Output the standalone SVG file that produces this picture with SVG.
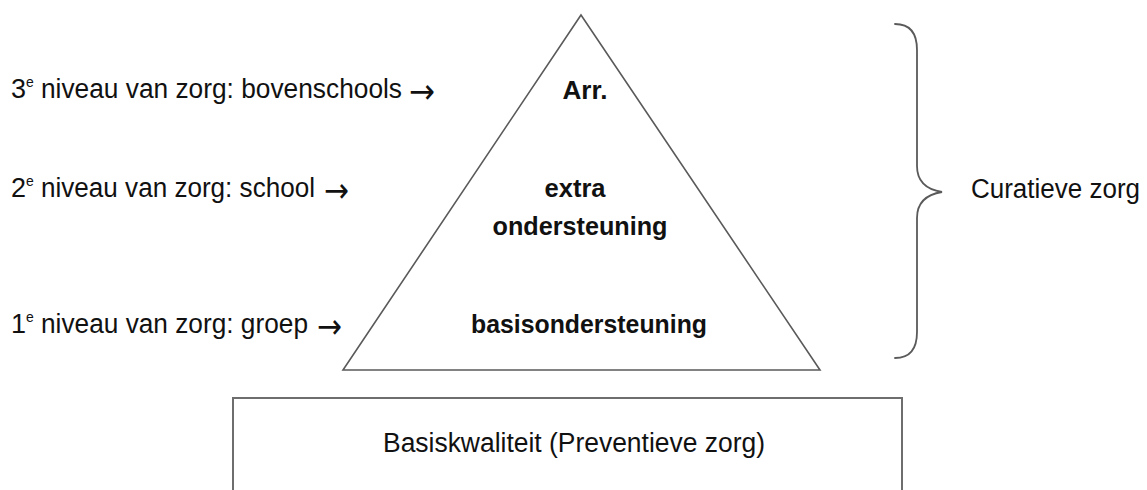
<svg xmlns="http://www.w3.org/2000/svg" width="1147" height="490" viewBox="0 0 1147 490">
  <style>
    .lbl { font-family: "Liberation Sans", Arial, sans-serif; font-size: 27px; fill: #111; }
    .sup { font-family: "Liberation Sans", Arial, sans-serif; font-size: 14px; fill: #111; }
    .bold { font-family: "Liberation Sans", Arial, sans-serif; font-size: 26px; font-weight: bold; fill: #111; text-anchor: middle; }
    .arrow { font-family: "DejaVu Sans", "Liberation Sans", sans-serif; font-size: 34px; fill: #111; }
    .shape { fill: #fff; stroke: #5a5a5a; stroke-width: 1.6; }
    .brace { fill: none; stroke: #5a5a5a; stroke-width: 1.8; stroke-linecap: round; }
  </style>
  <rect width="1147" height="490" fill="#fff"/>

  <g id="level3">
    <text class="lbl" x="11" y="98">3</text>
    <text class="sup" x="26" y="87">e</text>
    <text class="lbl" x="41" y="98" textLength="361" lengthAdjust="spacingAndGlyphs">niveau van zorg: bovenschools</text>
    <text class="arrow" x="409" y="103" textLength="26" lengthAdjust="spacingAndGlyphs">→</text>
  </g>
  <g id="level2">
    <text class="lbl" x="11" y="197">2</text>
    <text class="sup" x="26" y="186">e</text>
    <text class="lbl" x="41" y="197" textLength="274" lengthAdjust="spacingAndGlyphs">niveau van zorg: school</text>
    <text class="arrow" x="324" y="202" textLength="25" lengthAdjust="spacingAndGlyphs">→</text>
  </g>
  <g id="level1">
    <text class="lbl" x="11" y="333">1</text>
    <text class="sup" x="26" y="322">e</text>
    <text class="lbl" x="41" y="333" textLength="267" lengthAdjust="spacingAndGlyphs">niveau van zorg: groep</text>
    <text class="arrow" x="317" y="338" textLength="25" lengthAdjust="spacingAndGlyphs">→</text>
  </g>

  <g id="pyramid">
    <polygon class="shape" points="581,15 820,370 343,370"/>
    <text class="bold" x="585" y="99" textLength="45" lengthAdjust="spacingAndGlyphs">Arr.</text>
    <text class="bold" x="575" y="197" textLength="61" lengthAdjust="spacingAndGlyphs">extra</text>
    <text class="bold" x="580" y="235" textLength="175" lengthAdjust="spacingAndGlyphs">ondersteuning</text>
    <text class="bold" x="589" y="333" textLength="236" lengthAdjust="spacingAndGlyphs">basisondersteuning</text>
  </g>

  <g id="basiskwaliteit">
    <rect x="233" y="398" width="669" height="110" fill="#fff" stroke="#6e6e6e" stroke-width="2"/>
    <text class="lbl" x="574" y="452" text-anchor="middle" textLength="382" lengthAdjust="spacingAndGlyphs">Basiskwaliteit (Preventieve zorg)</text>
  </g>

  <g id="connectors">
    <path class="brace" d="M895,24 Q917,24 917,50 L917,166 Q917,188 942,192 Q917,196 917,218 L917,332 Q917,358 895,358"/>
  </g>

  <g id="curatieve">
    <text class="lbl" x="971" y="198" textLength="169" lengthAdjust="spacingAndGlyphs">Curatieve zorg</text>
  </g>
</svg>
